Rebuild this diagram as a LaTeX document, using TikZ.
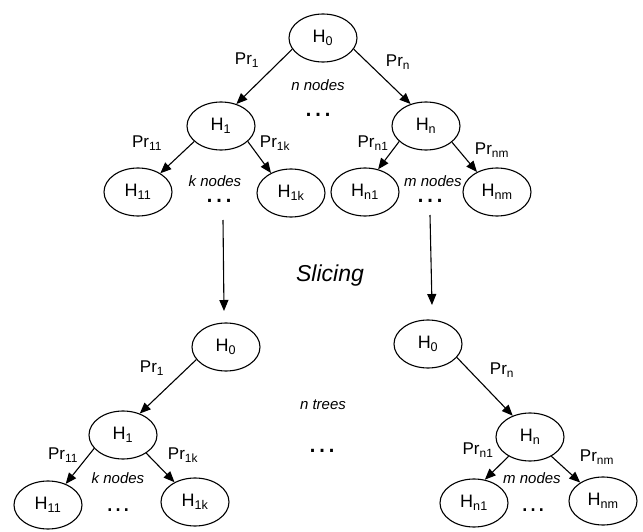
\documentclass[tikz,border=0pt]{standalone}
\usepackage{fontspec}
\setmainfont{Liberation Sans}
\usetikzlibrary{shapes.geometric,arrows.meta}

\begin{document}
\begin{tikzpicture}[
  x=1pt, y=-1pt,
  hyp/.style={draw, ellipse, line width=1.1pt, minimum width=68pt,
    minimum height=48pt, inner sep=0pt, font=\fontsize{18}{20}\selectfont},
  prob/.style={inner sep=0pt, font=\fontsize{17}{19}\selectfont},
  howmany/.style={inner sep=0pt, font=\fontsize{15}{17}\selectfont\itshape},
  etc/.style={inner sep=0pt, font=\fontsize{30}{30}\selectfont},
  etcsmall/.style={inner sep=0pt, font=\fontsize{26}{26}\selectfont},
  link/.style={->, line width=1.1pt},
  >={Triangle[length=11pt,width=9pt]}
]
\useasboundingbox (0,0) rectangle (643,532);

% Full hypothesis tree
\node[hyp] (t0)  at (323,38)  {H\textsubscript{0}};
\node[hyp] (t1)  at (221,126) {H\textsubscript{1}};
\node[hyp] (tn)  at (426,126) {H\textsubscript{n}};
\node[hyp] (t11) at (138,192) {H\textsubscript{11}};
\node[hyp] (t1k) at (291,193) {H\textsubscript{1k}};
\node[hyp] (tn1) at (365,192) {H\textsubscript{n1}};
\node[hyp] (tnm) at (497,192) {H\textsubscript{nm}};

\draw[link] (t0.200) -- (t1.55);
\draw[link] (t0.340) -- (tn.125);
\draw[link] (t1.210) -- (t11.40);
\draw[link] (t1.330) -- (t1k.135);
\draw[link] (tn.210) -- (tn1.60);
\draw[link] (tn.328) -- (tnm.135);

\node[prob] (tp1)  at (247,60)  {Pr\textsubscript{1}};
\node[prob] (tpn)  at (398,62)  {Pr\textsubscript{n}};
\node[prob] (tp11) at (147,143) {Pr\textsubscript{11}};
\node[prob] (tp1k) at (275,143) {Pr\textsubscript{1k}};
\node[prob] (tpn1) at (373,143) {Pr\textsubscript{n1}};
\node[prob] (tpnm) at (492,150) {Pr\textsubscript{nm}};

\node[howmany] (tnn) at (318,85)  {n nodes};
\node[etc]     (tnd) at (318,115) {…};
\node[howmany] (tkn) at (215,181) {k nodes};
\node[etc]     (tkd) at (219,201) {…};
\node[howmany] (tmn) at (433,181) {m nodes};
\node[etc]     (tmd) at (430,201) {…};

% Slicing step
\coordinate (sl1) at (223,220);
\coordinate (sl2) at (224,311);
\coordinate (sr1) at (430,215);
\coordinate (sr2) at (432,305);
\draw[link] (sl1) -- (sl2);
\draw[link] (sr1) -- (sr2);
\node[inner sep=0pt, font=\fontsize{23}{25}\selectfont\itshape] (slice) at (330,276) {Slicing};

% Sliced tree for branch 1
\node[hyp] (l0)  at (226,347) {H\textsubscript{0}};
\node[hyp] (l1)  at (123,435) {H\textsubscript{1}};
\node[hyp] (l11) at (48,505)  {H\textsubscript{11}};
\node[hyp] (l1k) at (195,502) {H\textsubscript{1k}};

\draw[link] (l0.203) -- (l1.52);
\draw[link] (l1.205) -- (l11.50);
\draw[link] (l1.322) -- (l1k.136);

\node[prob] (lp1)  at (152,368) {Pr\textsubscript{1}};
\node[prob] (lp11) at (63,455)  {Pr\textsubscript{11}};
\node[prob] (lp1k) at (183,455) {Pr\textsubscript{1k}};
\node[howmany]  (lkn) at (118,478) {k nodes};
\node[etcsmall] (lkd) at (118,510) {…};

% Number of trees
\node[howmany] (ntr) at (323,405) {n trees};
\node[etc]     (ntd) at (322,451) {…};

% Sliced tree for branch n
\node[hyp] (r0)  at (428,344) {H\textsubscript{0}};
\node[hyp] (rn)  at (530,437) {H\textsubscript{n}};
\node[hyp] (rn1) at (474,503) {H\textsubscript{n1}};
\node[hyp] (rnm) at (603,501) {H\textsubscript{nm}};

\draw[link] (r0.335) -- (rn.129);
\draw[link] (rn.222) -- (rn1.65);
\draw[link] (rn.318) -- (rnm.141);

\node[prob] (rpn)  at (502,370) {Pr\textsubscript{n}};
\node[prob] (rpn1) at (478,450) {Pr\textsubscript{n1}};
\node[prob] (rpnm) at (597,457) {Pr\textsubscript{nm}};
\node[howmany]  (rmn) at (532,478) {m nodes};
\node[etcsmall] (rmd) at (533,510) {…};

\end{tikzpicture}
\end{document}
